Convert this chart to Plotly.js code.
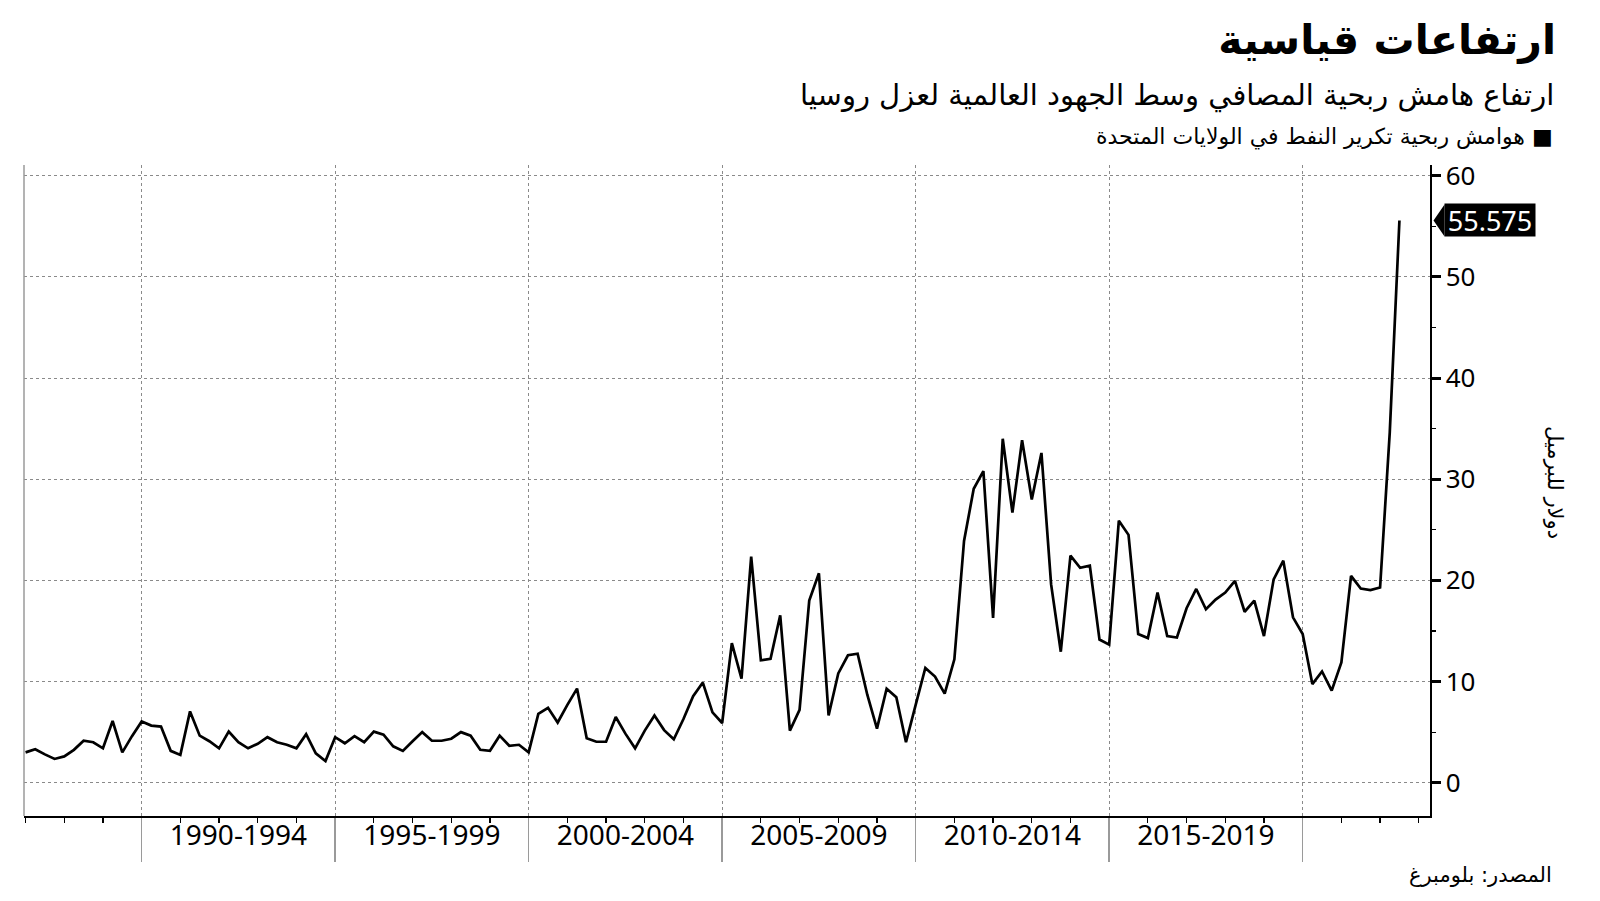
<!DOCTYPE html>
<html>
<head>
<meta charset="utf-8">
<script src="https://cdn.plot.ly/plotly-3.0.1.min.js"></script>
<style>
  html, body { margin: 0; padding: 0; background: #ffffff; }
  #chart { width: 1600px; height: 901px; }
</style>
</head>
<body>
<div id="chart"></div>
<script>
// ---- Data (quarterly, starting Q1 1987) ----
const startYear = 1987;
const periodsPerYear = 4;
const marginValues = [
  3.0, 3.3, 2.8, 2.35, 2.6, 3.25, 4.15, 4.0, 3.4, 6.1, 3.0, 4.6,
  6.05, 5.65, 5.55, 3.15, 2.75, 7.05, 4.65, 4.1, 3.4, 5.05, 4.0, 3.4,
  3.85, 4.5, 4.0, 3.75, 3.4, 4.8, 2.9, 2.15, 4.5, 3.9, 4.6, 4.0,
  5.05, 4.75, 3.6, 3.15, 4.1, 5.0, 4.15, 4.15, 4.35, 5.0, 4.65, 3.25,
  3.15, 4.65, 3.65, 3.75, 3.0, 6.8, 7.4, 5.95, 7.7, 9.3, 4.4, 4.05,
  4.05, 6.5, 4.85, 3.4, 5.15, 6.65, 5.2, 4.3, 6.3, 8.55, 9.9, 6.95,
  5.9, 13.8, 10.3, 22.35, 12.1, 12.25, 16.55, 5.15, 7.2, 18.0, 20.7, 6.65,
  10.8, 12.6, 12.75, 8.7, 5.35, 9.3, 8.45, 4.0, 7.7, 11.35, 10.5, 8.8,
  12.2, 23.9, 29.05, 30.8, 16.3, 34.0, 26.7, 33.85, 28.0, 32.6, 19.6, 12.95,
  22.45, 21.25, 21.45, 14.15, 13.65, 25.9, 24.5, 14.7, 14.3, 18.8, 14.5, 14.35,
  17.25, 19.15, 17.15, 18.1, 18.8, 19.95, 16.9, 18.0, 14.5, 20.1, 21.95, 16.35,
  14.7, 9.75, 11.0, 9.1, 11.9, 20.45, 19.2, 19.05, 19.3, 34.6, 55.575
];
const periodStarts = [1990, 1995, 2000, 2005, 2010, 2015];
const periodLabels = ['1990-1994', '1995-1999', '2000-2004', '2005-2009', '2010-2014', '2015-2019'];
const periodBoundaries = [1990, 1995, 2000, 2005, 2010, 2015, 2020];
const yTicks = [0, 10, 20, 30, 40, 50, 60];

const titleText = 'ارتفاعات قياسية';
const subtitleText = 'ارتفاع هامش ربحية المصافي وسط الجهود العالمية لعزل روسيا';
const legendText = 'هوامش ربحية تكرير النفط في الولايات المتحدة';
const yTitleText = 'دولار للبرميل';
const sourceText = 'المصدر: بلومبرغ';

// ---- Derived ----
const xs = marginValues.map((v, i) => startYear + i / periodsPerYear);
const lastValue = marginValues[marginValues.length - 1];
const periodCenters = periodStarts.map(s => s + 2.5);

const W = 1600, H = 901;
const M = { l: 24, r: 170, t: 165, b: 85 };
const plotW = W - M.l - M.r, plotH = H - M.t - M.b;
const px2x = px => (px - M.l) / plotW;
const px2y = py => (H - M.b - py) / plotH;

const numFont = '"Noto Sans", "Open Sans", "DejaVu Sans", sans-serif';
const arFont = '"DejaVu Sans", "Noto Sans", sans-serif';

const traces = [
  {
    x: xs, y: marginValues, type: 'scatter', mode: 'lines',
    line: { color: '#000000', width: 2.7 },
    hoverinfo: 'skip', showlegend: false
  },
  {
    x: xs, y: marginValues, type: 'scatter', mode: 'lines', xaxis: 'x2',
    line: { color: 'rgba(0,0,0,0)', width: 0 },
    hoverinfo: 'skip', showlegend: false
  }
];

const layout = {
  width: W, height: H,
  margin: M,
  paper_bgcolor: '#ffffff', plot_bgcolor: '#ffffff',
  showlegend: false,
  font: { family: numFont, color: '#000000' },
  title: {
    text: titleText,
    xref: 'container', x: 1556 / W, xanchor: 'right',
    yref: 'container', y: 1 - 40 / H, yanchor: 'middle',
    font: { family: arFont, size: 41, weight: 'bold', color: '#000000' }
  },
  xaxis: {
    range: [1986.96, 2023.29],
    tickmode: 'array', tickvals: periodBoundaries,
    ticktext: periodBoundaries.map(() => ''),
    ticks: 'outside', ticklen: 44, tickwidth: 1.5, tickcolor: '#9a9a9a',
    showgrid: true, gridcolor: '#8a8a8a', griddash: 'dot', gridwidth: 1,
    showline: true, linecolor: '#000000', linewidth: 1.5,
    zeroline: false, fixedrange: true,
    minor: { tick0: 1987, dtick: 1, ticks: 'outside', ticklen: 5, tickwidth: 1.2, tickcolor: '#000000', showgrid: false }
  },
  xaxis2: {
    overlaying: 'x', matches: 'x', anchor: 'y', side: 'bottom',
    tickmode: 'array', tickvals: periodCenters, ticktext: periodLabels,
    ticks: '', showgrid: false, showline: false, zeroline: false,
    tickfont: { family: numFont, size: 28, color: '#000000' },
    ticklabelstandoff: 0
  },
  yaxis: {
    side: 'right',
    range: [-3.29, 61.06],
    tickmode: 'array', tickvals: yTicks, ticktext: yTicks.map(String),
    ticks: 'outside', ticklen: 9, tickwidth: 3, tickcolor: '#000000',
    tickfont: { family: numFont, size: 26, color: '#000000' },
    showgrid: true, gridcolor: '#8a8a8a', griddash: 'dot', gridwidth: 1,
    showline: true, linecolor: '#000000', linewidth: 1.5,
    zeroline: false, fixedrange: true,
    minor: { tick0: 0, dtick: 5, ticks: 'outside', ticklen: 4, tickwidth: 1.2, tickcolor: '#000000', showgrid: false }
  },
  shapes: [
    { type: 'line', xref: 'paper', yref: 'paper', x0: 0, x1: 0, y0: 0, y1: 1,
      line: { color: '#9a9a9a', width: 1.5 } },
    { type: 'path', xref: 'paper', xsizemode: 'pixel', xanchor: 1,
      yref: 'y', ysizemode: 'pixel', yanchor: lastValue,
      path: 'M 3.5 0 L 14.5 16 L 14.5 -16 Z',
      fillcolor: '#000000', line: { width: 0 } }
  ],
  annotations: [
    { text: lastValue.toString(), xref: 'paper', x: 1, xanchor: 'left', xshift: 14,
      yref: 'y', y: lastValue, yanchor: 'middle',
      showarrow: false, bgcolor: '#000000', borderpad: 0, width: 90, height: 32,
      font: { family: numFont, size: 27, color: '#ffffff' } },
    { text: subtitleText, xref: 'paper', x: px2x(1556), xanchor: 'right',
      yref: 'paper', y: px2y(95), yanchor: 'middle', showarrow: false,
      font: { family: arFont, size: 29, color: '#000000' } },
    { text: legendText + ' \u25A0', xref: 'paper', x: px2x(1555), xanchor: 'right',
      yref: 'paper', y: px2y(137), yanchor: 'middle', showarrow: false,
      font: { family: arFont, size: 22, color: '#000000' } },
    { text: yTitleText, xref: 'paper', x: px2x(1555), xanchor: 'center',
      yref: 'paper', y: px2y(483), yanchor: 'middle', textangle: 90, showarrow: false,
      font: { family: arFont, size: 21, color: '#000000' } },
    { text: sourceText, xref: 'paper', x: px2x(1554), xanchor: 'right',
      yref: 'paper', y: px2y(875), yanchor: 'middle', showarrow: false,
      font: { family: arFont, size: 21, color: '#000000' } }
  ]
};

Plotly.newPlot('chart', traces, layout, { displayModeBar: false, staticPlot: true });
</script>
</body>
</html>
